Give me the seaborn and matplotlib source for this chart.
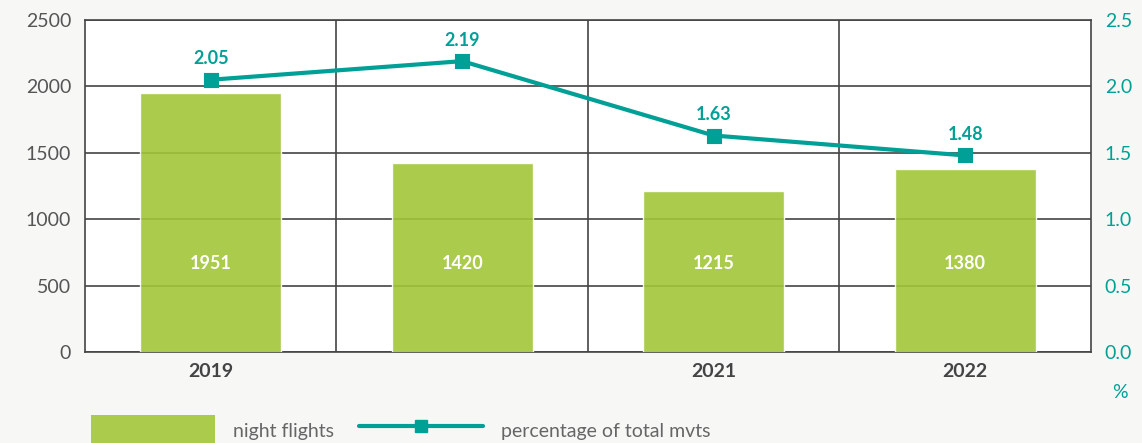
import pandas as pd
import seaborn as sns
import matplotlib.pyplot as plt
from matplotlib.patches import Patch
from matplotlib.lines import Line2D

# data
years = ["2019", "2020", "2021", "2022"]
year_labels = ["2019", "", "2021", "2022"]  # 2020 label is missing in the original
night_flights = [1951, 1420, 1215, 1380]
pct_total_mvts = [2.05, 2.19, 1.63, 1.48]
left_ticks = [0, 500, 1000, 1500, 2000, 2500]
right_ticks = [0.0, 0.5, 1.0, 1.5, 2.0, 2.5]

GREEN = "#a2c639"
TEAL = "#00a096"
GRID = "#444444"
TXT = "#555555"

sns.set_theme(style="white")
plt.rcParams["font.family"] = ["Lato", "DejaVu Sans"]

df = pd.DataFrame({"year": years, "flights": night_flights, "pct": pct_total_mvts})

fig = plt.figure(figsize=(11.42, 4.43), dpi=100, facecolor="#f7f8f6")
ax = fig.add_axes([0.0744, 0.2054, 0.8809, 0.7495])
ax.set_facecolor("white")

sns.barplot(data=df, x="year", y="flights", color=GREEN, alpha=0.9,
            width=0.56, ax=ax, zorder=3, saturation=1)

# grid: horizontal at ticks, vertical between categories
for v in left_ticks:
    ax.axhline(v, color=GRID, lw=1.2, zorder=1)
for b in [0.5, 1.5, 2.5]:
    ax.axvline(b, color=GRID, lw=1.2, zorder=1)

ax.set_xlim(-0.5, len(years) - 0.5)
ax.set_ylim(0, 2500)
ax.set_yticks(left_ticks)
ax.set_yticklabels([str(t) for t in left_ticks], color=TXT, fontsize=14)
ax.set_xlabel("")
ax.set_ylabel("")
for s in ax.spines.values():
    s.set_color(GRID)
    s.set_linewidth(1.2)

# bar value labels at a fixed height inside the bars
for i, v in enumerate(night_flights):
    ax.text(i, 670, str(v), ha="center", va="center", color="white",
            fontsize=13, fontweight="bold", zorder=5)

ax2 = ax.twinx()
sns.pointplot(data=df, x="year", y="pct", ax=ax2, color=TEAL, markers="s",
              linestyles="-", linewidth=3, markersize=9, zorder=6)
ax2.set_ylim(0, 2.5)
ax2.set_yticks(right_ticks)
ax2.set_yticklabels([f"{t:.1f}" for t in right_ticks], color=TEAL, fontsize=14)
ax2.set_ylabel("")
ax2.set_xlabel("")
for s in ax2.spines.values():
    s.set_visible(False)
ax2.tick_params(axis="y", length=0, pad=10)
for i, v in enumerate(pct_total_mvts):
    ax2.annotate(f"{v:.2f}", (i, v), xytext=(0, 9), textcoords="offset points",
                 ha="center", va="bottom", color=TEAL, fontsize=13, fontweight="bold")

ax.set_xlim(-0.5, len(years) - 0.5)
ax.set_xticks(range(len(years)))
ax.set_xticklabels(year_labels, color="#444444", fontsize=14, fontweight="bold")
ax.tick_params(axis="x", length=0, pad=8)
ax.tick_params(axis="y", length=0, pad=10)

fig.text(0.981, 0.115, "%", color=TEAL, fontsize=14, ha="center", va="center")

handles = [Patch(facecolor=GREEN, edgecolor="none", alpha=0.9),
           Line2D([0], [0], color=TEAL, lw=3, marker="s", markersize=9)]
fig.legend(handles, ["night flights", "percentage of total mvts"],
           loc="center left", bbox_to_anchor=(0.064, 0.027), ncol=2, frameon=False,
           fontsize=14, labelcolor="#666666", handlelength=6.4, handleheight=2.1,
           handletextpad=0.9, columnspacing=1.3)

fig.savefig("out.png", dpi=100, facecolor=fig.get_facecolor())
